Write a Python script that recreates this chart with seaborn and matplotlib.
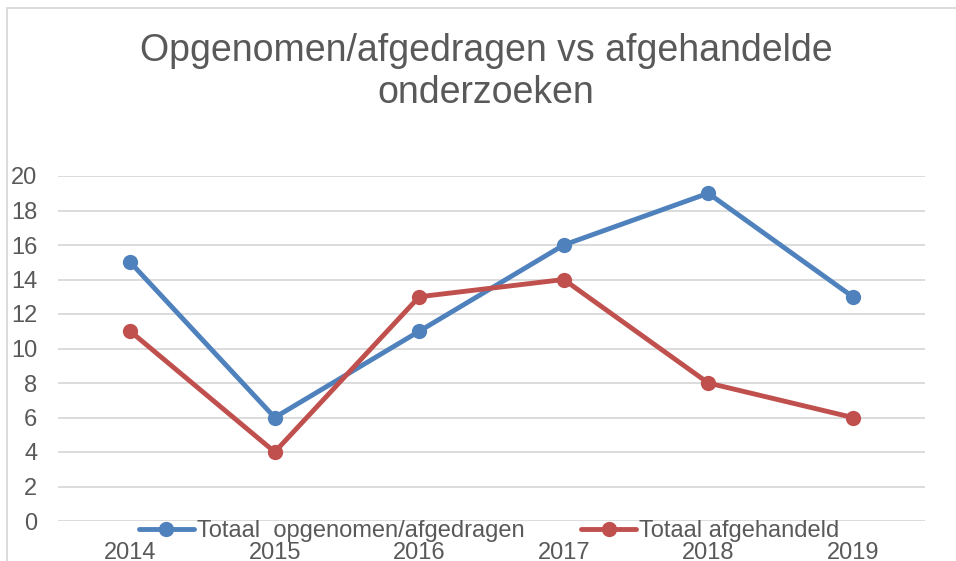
import matplotlib
matplotlib.use("Agg")
import matplotlib.pyplot as plt
import seaborn as sns
import pandas as pd
from matplotlib.patches import Rectangle

years = ["2014", "2015", "2016", "2017", "2018", "2019"]
opgenomen = [15, 6, 11, 16, 19, 13]
afgehandeld = [11, 4, 13, 14, 8, 6]
series_names = ["Totaal  opgenomen/afgedragen", "Totaal afgehandeld"]
title = "Opgenomen/afgedragen vs afgehandelde\nonderzoeken"
yticks = list(range(0, 21, 2))

df = pd.DataFrame({
    "year": years * 2,
    "x": list(range(len(years))) * 2,
    "value": opgenomen + afgehandeld,
    "series": [series_names[0]] * len(years) + [series_names[1]] * len(years),
})

sns.set_theme(style="white")
plt.rcParams["font.family"] = ["Liberation Sans", "DejaVu Sans"]
txt = "#595959"

W, H = 956, 561
fig = plt.figure(figsize=(W / 100, H / 100), dpi=100)
ax = fig.add_axes([58 / W, 1 - 521 / H, (925 - 58) / W, (521 - 176) / H])

sns.lineplot(data=df, x="x", y="value", hue="series",
             palette=["#4F81BD", "#C0504D"], marker="o", markersize=11,
             markeredgewidth=0, linewidth=3.5, ax=ax, legend=True)

ax.set_xlim(-0.5, 5.5)
ax.set_ylim(0, 20)
ax.set_yticks(yticks)
ax.set_yticklabels([str(v) for v in yticks], color=txt, fontsize=17)
ax.set_xticks(range(len(years)))
ax.set_xticklabels(years, color=txt, fontsize=17)
ax.tick_params(axis="x", length=0, pad=15)
ax.tick_params(axis="y", length=0, pad=15)
ax.grid(axis="y", color="#D9D9D9", linewidth=1.3)
ax.grid(axis="x", visible=False)
ax.set_axisbelow(True)
for s in ax.spines.values():
    s.set_visible(False)
ax.set_xlabel("")
ax.set_ylabel("")

handles, labels = ax.get_legend_handles_labels()
ax.get_legend().remove()
leg = fig.legend(handles, labels, loc="center", bbox_to_anchor=(489 / W, 1 - 531 / H),
                 ncol=2, frameon=False, fontsize=17, handlelength=2.33,
                 handletextpad=0.13, columnspacing=2.4, borderpad=0, borderaxespad=0)
for t in leg.get_texts():
    t.set_color(txt)

fig.text(486 / W, 1 - 72 / H, title, ha="center", va="center", fontsize=27,
         color=txt, linespacing=1.2)

fig.patches.append(Rectangle((7 / W, -0.1), 1.2, 1 - 8 / H + 0.1, transform=fig.transFigure,
                             fill=False, edgecolor="#D9D9D9", linewidth=1.3))

fig.savefig("out.png", dpi=100)
